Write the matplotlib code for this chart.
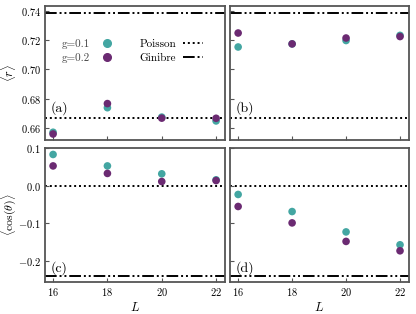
import matplotlib
matplotlib.use("Agg")
import matplotlib.pyplot as plt
from matplotlib.lines import Line2D
from matplotlib.ticker import FuncFormatter

plt.rcParams['font.family'] = 'serif'
plt.rcParams['font.serif'] = ['cmr10', 'DejaVu Serif']
plt.rcParams['mathtext.fontset'] = 'cm'
plt.rcParams['axes.formatter.use_mathtext'] = True

L = [16, 18, 20, 22]
r_a_g1 = [0.6573, 0.6740, 0.6676, 0.6650]
r_a_g2 = [0.6561, 0.6768, 0.6669, 0.6668]
r_b_g1 = [0.7153, 0.7174, 0.7197, 0.7232]
r_b_g2 = [0.7248, 0.7174, 0.7214, 0.7224]
c_c_g1 = [0.0835, 0.053, 0.032, 0.016]
c_c_g2 = [0.053, 0.033, 0.0115, 0.014]
c_d_g1 = [-0.023, -0.0685, -0.1227, -0.157]
c_d_g2 = [-0.055, -0.0987, -0.148, -0.173]
poisson_r, ginibre_r = 2/3, 0.7384
poisson_c, ginibre_c = 0.0, -0.24
labels = ['(a)', '(b)', '(c)', '(d)']

teal = '#43a6a2'
purple = '#6b2a72'
spine_c = '#555555'

fig = plt.figure(figsize=(4.16, 3.14), dpi=100)
pos = {
    'a': [0.108, 0.554, 0.433, 0.427],
    'b': [0.553, 0.554, 0.430, 0.427],
    'c': [0.108, 0.102, 0.433, 0.427],
    'd': [0.553, 0.102, 0.430, 0.427],
}
axes = {k: fig.add_axes(v) for k, v in pos.items()}
data = {
    'a': (r_a_g1, r_a_g2, poisson_r, ginibre_r),
    'b': (r_b_g1, r_b_g2, poisson_r, ginibre_r),
    'c': (c_c_g1, c_c_g2, poisson_c, ginibre_c),
    'd': (c_d_g1, c_d_g2, poisson_c, ginibre_c),
}
dash_dot = (0, (6, 1.5, 1, 1.5, 1, 1.5))
for i, (k, ax) in enumerate(axes.items()):
    g1, g2, p, g = data[k]
    ax.axhline(p, color='black', ls=(0, (1, 1.5)), lw=1.4, zorder=1)
    ax.axhline(g, color='black', ls=dash_dot, lw=1.4, zorder=1)
    ax.scatter(L, g1, s=30, color=teal, zorder=3, edgecolors='none')
    ax.scatter(L, g2, s=30, color=purple, zorder=4, edgecolors='none')
    ax.set_xlim(15.7, 22.33)
    ax.set_xticks(L)
    ax.xaxis.set_major_formatter(FuncFormatter(lambda v, _: '$%d$' % v))
    for s in ax.spines.values():
        s.set_color(spine_c)
        s.set_linewidth(1.3)
    ax.tick_params(direction='in', length=3, width=0.8, color=spine_c,
                   labelsize=7.5, pad=3)
    if k in ('a', 'b'):
        ax.set_ylim(0.652, 0.7432)
        ax.set_yticks([0.66, 0.68, 0.70, 0.72, 0.74])
        ax.yaxis.set_major_formatter(FuncFormatter(lambda v, _: '$%.2f$' % v))
        ax.tick_params(labelbottom=False)
    else:
        ax.set_ylim(-0.256, 0.101)
        ax.set_yticks([-0.2, -0.1, 0.0, 0.1])
        ax.yaxis.set_major_formatter(FuncFormatter(lambda v, _: '$%.1f$' % (0.0 if abs(v) < 1e-9 else v)))
        ax.set_xlabel(r'$L$', fontsize=9, labelpad=2)
    if k in ('b', 'd'):
        ax.tick_params(labelleft=False)
    ax.text(0.03, 0.24 if k in ('a', 'b') else 0.1, labels[i],
            transform=ax.transAxes, fontsize=10, fontweight='bold',
            va='center', ha='left')

axes['a'].set_ylabel(r'$\langle r\rangle$', fontsize=9)
axes['c'].set_ylabel(r'$\langle\cos(\theta)\rangle$', fontsize=8.5)
axes['a'].yaxis.set_label_coords(-0.15, 0.5)
axes['c'].yaxis.set_label_coords(-0.15, 0.5)

h1 = Line2D([], [], ls='none', marker='o', color=teal, markersize=5.5)
h2 = Line2D([], [], ls='none', marker='o', color=purple, markersize=5.5)
hp = Line2D([], [], color='black', ls=(0, (1, 1.5)), lw=1.4)
hg = Line2D([], [], color='black', ls=dash_dot, lw=1.4)
leg = axes['a'].legend([h1, h2, hp, hg], ['g=0.1', 'g=0.2', 'Poisson', 'Ginibre'],
                       ncol=2, frameon=False, markerfirst=False,
                       loc='upper left', bbox_to_anchor=(0.04, 0.83),
                       fontsize=8, handlelength=1.8, columnspacing=2.0,
                       handletextpad=0.6, labelspacing=0.4)
txts = leg.get_texts()
txts[0].set_color('#444444'); txts[1].set_color('#444444')

fig.savefig('out.png', dpi=100)
